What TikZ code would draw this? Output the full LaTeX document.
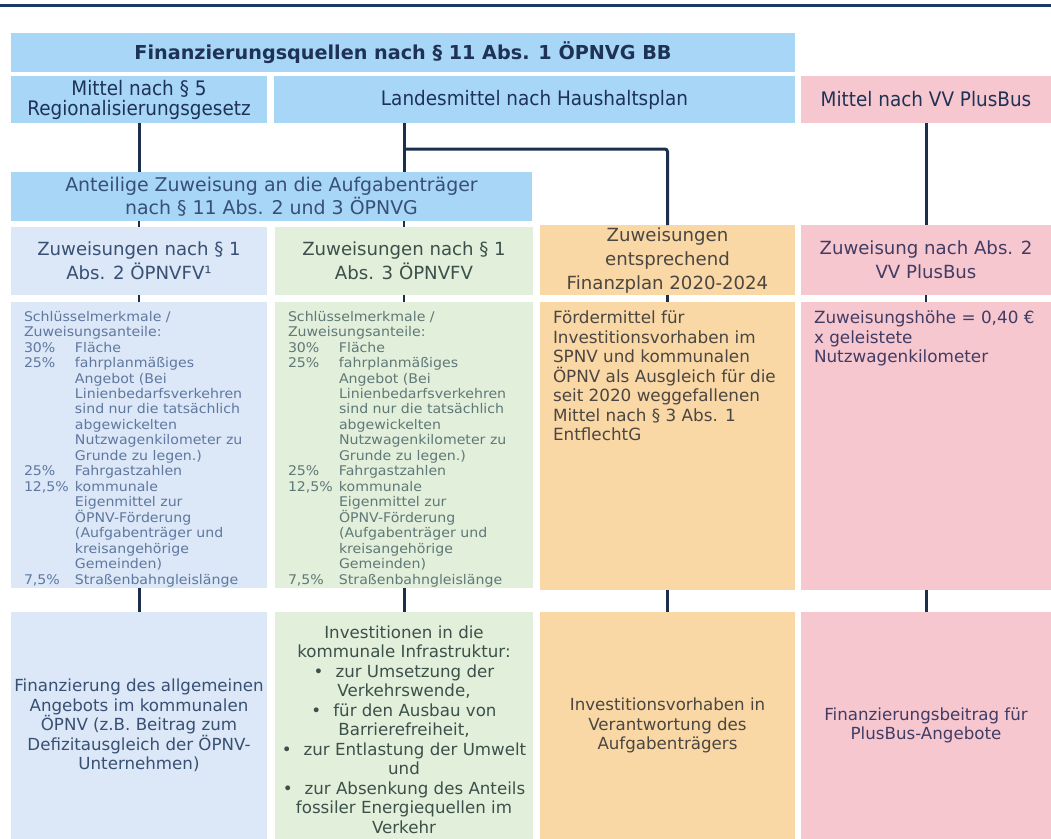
\documentclass[tikz,border=0pt]{standalone}
\usepackage{fontspec}
\setmainfont{DejaVu Sans}
\newfontfamily\condfont[FakeStretch=0.92]{DejaVu Sans}
\newfontfamily\widefont[FakeStretch=1.06]{DejaVu Sans}

% colours
\definecolor{rulenavy}{RGB}{24,58,100}
\definecolor{linenavy}{RGB}{28,48,78}
\definecolor{hdrblue}{RGB}{168,214,247}
\definecolor{cellblue}{RGB}{220,231,247}
\definecolor{cellgreen}{RGB}{226,239,218}
\definecolor{cellorange}{RGB}{249,216,166}
\definecolor{cellpink}{RGB}{247,199,207}
\definecolor{txtnavy}{RGB}{30,50,85}
\definecolor{txtblue}{RGB}{55,80,115}
\definecolor{txtgreen}{RGB}{60,80,75}
\definecolor{txtbrown}{RGB}{75,70,65}
\definecolor{txtpurple}{RGB}{65,60,100}
\definecolor{smallblue}{RGB}{95,120,160}
\definecolor{smallgreen}{RGB}{95,120,120}

% one pixel of the slide
\newdimen\px \px=0.75pt

\newcommand{\titlefont}{\bfseries\fontsize{14.4pt}{16pt}\selectfont}
\newcommand{\srcfont}{\condfont\fontsize{15pt}{15pt}\selectfont}
\newcommand{\anteilfont}{\fontsize{14.2pt}{17pt}\selectfont}
\newcommand{\headfont}{\fontsize{13.6pt}{18pt}\selectfont}
\newcommand{\smallfont}{\widefont\fontsize{10pt}{11.6pt}\selectfont}
\newcommand{\midfont}{\fontsize{12.6pt}{14.6pt}\selectfont}
\newcommand{\botfont}{\fontsize{12.5pt}{14.6pt}\selectfont}

% percentage with hanging text
\newcommand{\keyrow}[2]{\par\noindent\hangindent=51\px\hangafter=1\makebox[51\px][l]{#1}#2\par}

\begin{document}
\begin{tikzpicture}[x=0.75pt, y=-0.75pt,
    cell/.style={anchor=north west, inner sep=0pt, outer sep=0pt},
    textcell/.style={anchor=north west, inner xsep=13*\px, inner ysep=9*\px, outer sep=0pt},
    conn/.style={draw=linenavy, line width=3*\px},
    stub/.style={draw=linenavy, line width=2.5*\px}]
    \useasboundingbox (0,0) rectangle (1051,839);

    % top rule
    \draw[rulenavy, line width=3*\px] (0,5) -- (1051,5);

    % Sources
    \node[cell, fill=hdrblue, text=txtnavy] (title) at (11,33) {\parbox[c][39\px][c]{784\px}{\centering\titlefont Finanzierungsquellen nach § 11 Abs. 1 ÖPNVG BB}};
    \node[cell, fill=hdrblue, text=txtnavy] (mittel) at (11,76) {\parbox[c][47\px][c]{256\px}{\centering\srcfont Mittel nach § 5\\Regionalisierungsgesetz}};
    \node[cell, fill=hdrblue, text=txtnavy] (landes) at (274,76) {\parbox[c][47\px][c]{521\px}{\centering\srcfont Landesmittel nach Haushaltsplan}};
    \node[cell, fill=cellpink, text=txtnavy] (plusbus) at (801,76) {\parbox[c][47\px][c]{250\px}{\centering\srcfont Mittel nach VV PlusBus}};

    % Anteilige Zuweisung
    \node[cell, fill=hdrblue, text=txtblue] (anteil) at (11,172) {\parbox[c][49\px][c]{521\px}{\centering\anteilfont Anteilige Zuweisung an die Aufgabenträger\\nach § 11 Abs. 2 und 3 ÖPNVG}};

    % Zuweisungen
    \node[cell, fill=cellblue, text=txtblue] (z1) at (11,227) {\parbox[c][68\px][c]{256\px}{\centering\headfont Zuweisungen nach § 1\\Abs. 2 ÖPNVFV¹}};
    \node[cell, fill=cellgreen, text=txtgreen] (z2) at (275,227) {\parbox[c][68\px][c]{258\px}{\centering\headfont Zuweisungen nach § 1\\Abs. 3 ÖPNVFV}};
    \node[cell, fill=cellorange, text=txtbrown] (z3) at (540,225) {\parbox[c][70\px][c]{255\px}{\centering\headfont Zuweisungen\\entsprechend\\Finanzplan 2020-2024}};
    \node[cell, fill=cellpink, text=txtpurple] (z4) at (801,225) {\parbox[c][70\px][c]{250\px}{\centering\headfont Zuweisung nach Abs. 2\\VV PlusBus}};

    % Schluesselmerkmale
    \node[textcell, fill=cellblue, text=smallblue] (s1) at (11,302) {\parbox[c][268\px][t]{230\px}{\raggedright\smallfont
        Schlüsselmerkmale /\newline Zuweisungsanteile:\par
        \keyrow{30\%}{Fläche}
        \keyrow{25\%}{fahrplanmäßiges\newline Angebot (Bei\newline Linienbedarfsverkehren\newline sind nur die tatsächlich\newline abgewickelten\newline Nutzwagenkilometer zu\newline Grunde zu legen.)}
        \keyrow{25\%}{Fahrgastzahlen}
        \keyrow{12,5\%}{kommunale\newline Eigenmittel zur\newline ÖPNV-Förderung\newline (Aufgabenträger und\newline kreisangehörige\newline Gemeinden)}
        \keyrow{7,5\%}{Straßenbahngleislänge}}};
    \node[textcell, fill=cellgreen, text=smallgreen] (s2) at (275,302) {\parbox[c][268\px][t]{232\px}{\raggedright\smallfont
        Schlüsselmerkmale /\newline Zuweisungsanteile:\par
        \keyrow{30\%}{Fläche}
        \keyrow{25\%}{fahrplanmäßiges\newline Angebot (Bei\newline Linienbedarfsverkehren\newline sind nur die tatsächlich\newline abgewickelten\newline Nutzwagenkilometer zu\newline Grunde zu legen.)}
        \keyrow{25\%}{Fahrgastzahlen}
        \keyrow{12,5\%}{kommunale\newline Eigenmittel zur\newline ÖPNV-Förderung\newline (Aufgabenträger und\newline kreisangehörige\newline Gemeinden)}
        \keyrow{7,5\%}{Straßenbahngleislänge}}};
    \node[textcell, fill=cellorange, text=txtbrown] (s3) at (540,302) {\parbox[c][270\px][t]{229\px}{\raggedright\midfont
        Fördermittel für\\Investitionsvorhaben im\\SPNV und kommunalen\\ÖPNV als Ausgleich für die\\seit 2020 weggefallenen\\Mittel nach § 3 Abs. 1\\EntflechtG}};
    \node[textcell, fill=cellpink, text=txtpurple] (s4) at (801,302) {\parbox[c][270\px][t]{224\px}{\raggedright\midfont
        Zuweisungshöhe = 0,40 €\\x geleistete\\Nutzwagenkilometer}};

    % Verwendung
    \node[cell, fill=cellblue, text=txtblue] (f1) at (11,612) {\parbox[c][227\px][c]{256\px}{\centering\botfont Finanzierung des allgemeinen\\Angebots im kommunalen\\ÖPNV (z.B. Beitrag zum\\Defizitausgleich der ÖPNV-\\Unternehmen)}};
    \node[cell, fill=cellgreen, text=txtgreen] (f2) at (275,612) {\parbox[c][227\px][c]{258\px}{\centering\botfont \vspace*{8\px}Investitionen in die\\kommunale Infrastruktur:\\•\hspace{12\px}zur Umsetzung der\\Verkehrswende,\\•\hspace{12\px}für den Ausbau von\\Barrierefreiheit,\\•\hspace{12\px}zur Entlastung der Umwelt\\und\\•\hspace{12\px}zur Absenkung des Anteils\\fossiler Energiequellen im\\Verkehr}};
    \node[cell, fill=cellorange, text=txtbrown] (f3) at (540,612) {\parbox[c][227\px][c]{255\px}{\centering\botfont Investitionsvorhaben in\\Verantwortung des\\Aufgabenträgers}};
    \node[cell, fill=cellpink, text=txtpurple] (f4) at (801,612) {\parbox[c][227\px][c]{250\px}{\centering\botfont Finanzierungsbeitrag für\\PlusBus-Angebote}};

    % Connections
    \draw[conn] (mittel.south) -- (mittel.south |- anteil.north);
    \draw[conn] (landes.south -| z2.north) -- (anteil.north -| z2.north);
    \path (landes.south -| z2.north) ++(0,26) coordinate (fork);
    \draw[conn, rounded corners=2pt] (fork) -| (z3.north);
    \draw[conn] (plusbus.south) -- (z4.north);

    \draw[stub] (anteil.south -| z1.north) -- (z1.north);
    \draw[stub] (anteil.south -| z2.north) -- (z2.north);
    \foreach \i in {1,...,4} {
        \draw[stub] (z\i.south) -- (s\i.north);
        \draw[conn] (s\i.south) -- (f\i.north);
    }

\end{tikzpicture}
\end{document}
